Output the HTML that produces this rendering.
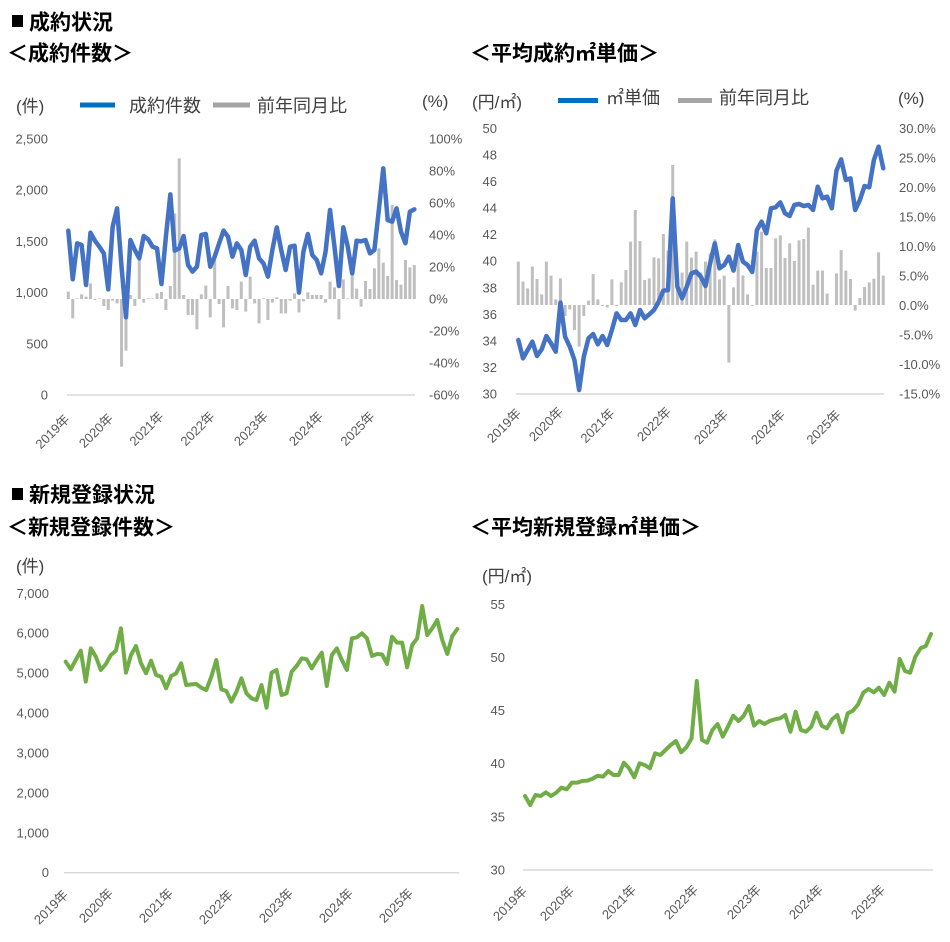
<!DOCTYPE html>
<html>
<head>
<meta charset="utf-8">
<style>
html,body{margin:0;padding:0;background:#fff;}
svg{display:block;}
.h{font-family:"Liberation Sans","Noto Sans CJK JP",sans-serif;font-weight:bold;font-size:21px;fill:#000;}
.lg{font-family:"Liberation Sans","Noto Sans CJK JP",sans-serif;font-size:18px;fill:#404040;}
.un{font-family:"Liberation Sans","Noto Sans CJK JP",sans-serif;font-size:17px;fill:#404040;}
.t{font-family:"Liberation Sans",sans-serif;font-size:13px;fill:#595959;}
.yr{font-family:"Liberation Sans","Noto Sans CJK JP",sans-serif;font-size:13px;fill:#595959;}
.bar{fill:none;stroke:#bfbfbf;stroke-width:3;vector-effect:non-scaling-stroke;}
.bl{fill:none;stroke:#4472C4;stroke-width:4.5;stroke-linejoin:round;stroke-linecap:round;vector-effect:non-scaling-stroke;}
.gl{fill:none;stroke:#70AD47;stroke-width:4;stroke-linejoin:round;stroke-linecap:round;vector-effect:non-scaling-stroke;}
.ax{stroke:#d9d9d9;stroke-width:1.5;}
</style>
</head>
<body>
<svg width="950" height="942" viewBox="0 0 950 942" xmlns="http://www.w3.org/2000/svg">
<rect width="950" height="942" fill="#fff"/>

<!-- Headers -->
<rect x="12" y="15" width="11" height="12" fill="#000"/>
<text class="h" x="29" y="29.5">成約状況</text>
<text class="h" x="7" y="60.5">＜成約件数＞</text>
<text class="h" x="470" y="60.5">＜平均成約㎡単価＞</text>
<rect x="12" y="488" width="11" height="12" fill="#000"/>
<text class="h" x="29" y="502">新規登録状況</text>
<text class="h" x="7" y="534.5">＜新規登録件数＞</text>
<text class="h" x="470" y="534.5">＜平均新規登録㎡単価＞</text>

<!-- ===== Top-left chart ===== -->
<text class="un" x="16" y="112">(件)</text>
<line x1="80" y1="105" x2="115" y2="105" stroke="#0070C0" stroke-width="5"/>
<text class="lg" x="129" y="112">成約件数</text>
<line x1="213" y1="105" x2="250" y2="105" stroke="#a5a5a5" stroke-width="5"/>
<text class="lg" x="257" y="112">前年同月比</text>
<text class="un" x="422" y="107">(%)</text>

<g class="t" text-anchor="end">
<text x="48" y="143.5">2,500</text>
<text x="48" y="194.7">2,000</text>
<text x="48" y="245.9">1,500</text>
<text x="48" y="297.1">1,000</text>
<text x="48" y="348.3">500</text>
<text x="48" y="399.5">0</text>
</g>
<g class="t">
<text x="429" y="143.5">100%</text>
<text x="429" y="175.5">80%</text>
<text x="429" y="207.5">60%</text>
<text x="429" y="239.5">40%</text>
<text x="429" y="271.5">20%</text>
<text x="429" y="303.5">0%</text>
<text x="429" y="335.5">-20%</text>
<text x="429" y="367.5">-40%</text>
<text x="429" y="399.5">-60%</text>
</g>
<line class="ax" x1="67" y1="395" x2="415" y2="395"/>
<g class="yr" text-anchor="end">
<text transform="translate(70.5 420) rotate(-45)">2019年</text>
<text transform="translate(114 419) rotate(-45)">2020年</text>
<text transform="translate(164.5 417) rotate(-45)">2021年</text>
<text transform="translate(215.5 417) rotate(-45)">2022年</text>
<text transform="translate(269 417) rotate(-45)">2023年</text>
<text transform="translate(324 417) rotate(-45)">2024年</text>
<text transform="translate(375.5 417) rotate(-45)">2025年</text>
</g>
<g transform="translate(68.3 80) scale(4.436 0.333333)">
<path class="bar" d="M0 657V635M1 657V715M2 657V655M3 657V643M4 657V650M5 657V610M6 657V660M7 657V655M8 657V678M9 657V690M10 657V662M11 657V670M12 657V860M13 657V812M14 657V645M15 657V678M16 657V535M17 657V668M18 657V655M19 657V655M20 657V640M21 657V636M22 657V690M23 657V618M24 657V400M25 657V235M26 657V645M27 657V705M28 657V705M29 657V748M30 657V643M31 657V617M32 657V712M33 657V540M34 657V672M35 657V742M36 657V618M37 657V685M38 657V690M39 657V605M40 657V695M41 657V590M42 657V670M43 657V730M44 657V655M45 657V720M46 657V668M47 657V652M48 657V700M49 657V700M50 657V662M51 657V640M52 657V697M53 657V664M54 657V637M55 657V645M56 657V645M57 657V645M58 657V668M59 657V605M60 657V622M61 657V718M62 657V598M63 657V655M64 657V585M65 657V626M66 657V680M67 657V603M68 657V627M69 657V565M70 657V505M71 657V548M72 657V588M73 657V375M74 657V600M75 657V614M76 657V540M77 657V562M78 657V555"/>
<polyline class="bl" points="0,452 1,598 2,490 3,495 4,615 5,458 6,482 7,500 8,520 9,628 10,440 11,385 12,560 13,712 14,480 15,510 16,535 17,468 18,478 19,500 20,505 21,612 22,470 23,343 24,512 25,505 26,468 27,555 28,575 29,560 30,465 31,462 32,560 33,530 34,490 35,452 36,470 37,530 38,490 39,510 40,585 41,500 42,482 43,535 44,550 45,590 46,510 47,442 48,510 49,570 50,500 51,497 52,638 53,515 54,462 55,525 56,540 57,580 58,515 59,390 60,500 61,618 62,442 63,500 64,580 65,482 66,484 67,480 68,520 69,510 70,390 71,265 72,420 73,425 74,385 75,455 76,490 77,395 78,388"/>
</g>

<!-- ===== Top-right chart ===== -->
<text class="un" x="472" y="108">(円/㎡)</text>
<line x1="558" y1="100.5" x2="598" y2="100.5" stroke="#0070C0" stroke-width="5"/>
<text class="lg" x="606" y="104">㎡単価</text>
<line x1="678" y1="100.5" x2="712" y2="100.5" stroke="#a5a5a5" stroke-width="5"/>
<text class="lg" x="719" y="104">前年同月比</text>
<text class="un" x="898" y="104">(%)</text>

<g class="t" text-anchor="end">
<text x="497" y="132.8">50</text>
<text x="497" y="159.4">48</text>
<text x="497" y="186">46</text>
<text x="497" y="212.6">44</text>
<text x="497" y="239.2">42</text>
<text x="497" y="265.7">40</text>
<text x="497" y="292.3">38</text>
<text x="497" y="318.9">36</text>
<text x="497" y="345.5">34</text>
<text x="497" y="372.1">32</text>
<text x="497" y="398.5">30</text>
</g>
<g class="t">
<text x="899" y="132.8">30.0%</text>
<text x="899" y="162.3">25.0%</text>
<text x="899" y="191.9">20.0%</text>
<text x="899" y="221.4">15.0%</text>
<text x="899" y="250.9">10.0%</text>
<text x="899" y="280.4">5.0%</text>
<text x="899" y="310">0.0%</text>
<text x="899" y="339.5">-5.0%</text>
<text x="899" y="369">-10.0%</text>
<text x="899" y="398.5">-15.0%</text>
</g>
<line class="ax" x1="516" y1="394" x2="884" y2="394"/>
<g class="yr" text-anchor="end">
<text transform="translate(522 414) rotate(-45)">2019年</text>
<text transform="translate(564 412.5) rotate(-45)">2020年</text>
<text transform="translate(615.5 414) rotate(-45)">2021年</text>
<text transform="translate(672 412.5) rotate(-45)">2022年</text>
<text transform="translate(729 415.5) rotate(-45)">2023年</text>
<text transform="translate(786 415.5) rotate(-45)">2024年</text>
<text transform="translate(841.5 415.5) rotate(-45)">2025年</text>
</g>
<g transform="translate(518.3 80) scale(4.679 0.333333)">
<path class="bar" d="M0 675V545M1 675V605M2 675V625M3 675V560M4 675V597M5 675V643M6 675V545M7 675V587M8 675V658M9 675V595M10 675V708M11 675V688M12 675V750M13 675V800M14 675V708M15 675V662M16 675V582M17 675V658M18 675V678M19 675V682M20 675V598M21 675V678M22 675V607M23 675V570M24 675V485M25 675V390M26 675V483M27 675V600M28 675V595M29 675V532M30 675V535M31 675V462M32 675V512M33 675V255M34 675V592M35 675V578M36 675V485M37 675V533M38 675V515M39 675V577M40 675V545M41 675V520M42 675V478M43 675V598M44 675V587M45 675V848M46 675V622M47 675V492M48 675V586M49 675V643M50 675V678M51 675V515M52 675V455M53 675V564M54 675V564M55 675V475M56 675V466M57 675V534M58 675V490M59 675V543M60 675V481M61 675V477M62 675V443M63 675V614M64 675V572M65 675V572M66 675V641M67 675V675M68 675V580M69 675V510M70 675V572M71 675V597M72 675V692M73 675V654M74 675V621M75 675V607M76 675V596M77 675V517M78 675V587"/>
<polyline class="bl" points="0,780 1,835 2,810 3,785 4,828 5,808 6,768 7,790 8,815 9,668 10,770 11,800 12,840 13,930 14,830 15,775 16,762 17,793 18,768 19,795 20,750 21,700 22,720 23,720 24,700 25,735 26,690 27,715 28,703 29,690 30,665 31,632 32,630 33,355 34,620 35,655 36,620 37,580 38,575 39,590 40,618 41,550 42,490 43,565 44,555 45,530 46,572 47,495 48,545 49,555 50,576 51,450 52,425 53,460 54,385 55,382 56,367 57,400 58,408 59,375 60,372 61,378 62,375 63,390 64,320 65,355 66,350 67,385 68,272 69,238 70,300 71,295 72,390 73,360 74,318 75,322 76,240 77,200 78,265"/>
</g>

<!-- ===== Bottom-left chart ===== -->
<text class="un" x="16" y="572">(件)</text>
<g class="t" text-anchor="end">
<text x="49" y="597.8">7,000</text>
<text x="49" y="637.7">6,000</text>
<text x="49" y="677.6">5,000</text>
<text x="49" y="717.5">4,000</text>
<text x="49" y="757.4">3,000</text>
<text x="49" y="797.4">2,000</text>
<text x="49" y="837.3">1,000</text>
<text x="49" y="877.2">0</text>
</g>
<line class="ax" x1="64" y1="872.7" x2="459" y2="872.7"/>
<g class="yr" text-anchor="end">
<text transform="translate(69 895.5) rotate(-45)">2019年</text>
<text transform="translate(114 894) rotate(-45)">2020年</text>
<text transform="translate(174 894) rotate(-45)">2021年</text>
<text transform="translate(234 895.5) rotate(-45)">2022年</text>
<text transform="translate(294 894) rotate(-45)">2023年</text>
<text transform="translate(354 894) rotate(-45)">2024年</text>
<text transform="translate(414 894) rotate(-45)">2025年</text>
</g>
<g transform="translate(65.7 560) scale(5.021 0.333333)">
<polyline class="gl" points="0,305 1,328 2,300 3,272 4,365 5,265 6,290 7,330 8,312 9,285 10,272 11,205 12,338 13,285 14,258 15,310 16,340 17,302 18,345 19,350 20,385 21,348 22,340 23,310 24,375 25,373 26,372 27,383 28,390 29,350 30,300 31,388 32,393 33,425 34,395 35,355 36,400 37,415 38,420 39,375 40,443 41,338 42,330 43,405 44,400 45,335 46,318 47,295 48,298 49,325 50,300 51,278 52,378 53,285 54,265 55,300 56,330 57,235 58,232 59,220 60,235 61,288 62,282 63,283 64,312 65,230 66,248 67,248 68,322 69,255 70,235 71,138 72,225 73,205 74,180 75,240 76,282 77,228 78,207"/>
</g>

<!-- ===== Bottom-right chart ===== -->
<text class="un" x="482" y="582">(円/㎡)</text>
<g class="t" text-anchor="end">
<text x="505" y="608.8">55</text>
<text x="505" y="661.9">50</text>
<text x="505" y="715.1">45</text>
<text x="505" y="768.2">40</text>
<text x="505" y="821.4">35</text>
<text x="505" y="874.5">30</text>
</g>
<line class="ax" x1="523" y1="870" x2="933" y2="870"/>
<g class="yr" text-anchor="end">
<text transform="translate(528 892) rotate(-45)">2019年</text>
<text transform="translate(575 892) rotate(-45)">2020年</text>
<text transform="translate(637 890.5) rotate(-45)">2021年</text>
<text transform="translate(699 890.5) rotate(-45)">2022年</text>
<text transform="translate(762 890.5) rotate(-45)">2023年</text>
<text transform="translate(824 890.5) rotate(-45)">2024年</text>
<text transform="translate(886 890.5) rotate(-45)">2025年</text>
</g>
<g transform="translate(525 560) scale(5.205 0.333333)">
<polyline class="gl" points="0,708 1,735 2,705 3,708 4,697 5,708 6,698 7,683 8,688 9,668 10,668 11,663 12,662 13,656 14,647 15,650 16,633 17,645 18,645 19,608 20,625 21,652 22,610 23,615 24,625 25,580 26,585 27,570 28,555 29,543 30,577 31,562 32,535 33,363 34,540 35,548 36,510 37,492 38,530 39,500 40,467 41,483 42,468 43,438 44,497 45,483 46,492 47,483 48,478 49,475 50,465 51,515 52,455 53,510 54,515 55,500 56,458 57,497 58,505 59,478 60,465 61,517 62,460 63,452 64,433 65,398 66,387 67,397 68,383 69,405 70,368 71,395 72,297 73,333 74,338 75,290 76,265 77,258 78,222"/>
</g>
</svg>
</body>
</html>
